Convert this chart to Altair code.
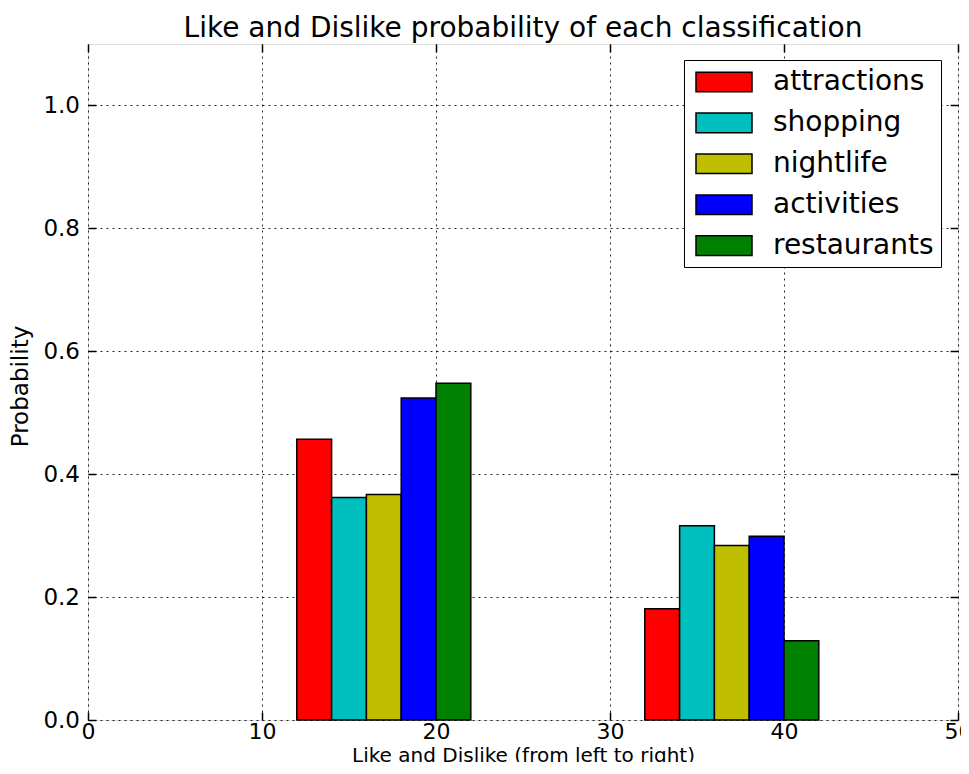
import altair as alt
import pandas as pd

categories = ["attractions", "shopping", "nightlife", "activities", "restaurants"]
bar_colors = ["#ff0000", "#00bfbf", "#bfbf00", "#0000ff", "#008000"]
like_start = [12, 14, 16, 18, 20]
dislike_start = [32, 34, 36, 38, 40]
bar_width = 2
like_prob = [0.457, 0.362, 0.367, 0.524, 0.548]
dislike_prob = [0.181, 0.316, 0.284, 0.299, 0.129]
x_ticks = [0, 10, 20, 30, 40, 50]
y_ticks = [0.0, 0.2, 0.4, 0.6, 0.8, 1.0]

rows = []
for starts, probs in ((like_start, like_prob), (dislike_start, dislike_prob)):
    for cat, s, p in zip(categories, starts, probs):
        rows.append({"category": cat, "x0": s, "x1": s + bar_width, "prob": p, "base": 0.0})
df = pd.DataFrame(rows)

FONT = "DejaVu Sans"
x_scale = alt.Scale(domain=[0, 50], nice=False, zero=False)
y_scale = alt.Scale(domain=[0, 1.1], nice=False)

legend = alt.Legend(
    title=None, orient="none", legendX=596, legendY=16, direction="vertical", columns=1,
    symbolType="M-2,-0.7L2,-0.7L2,0.7L-2,0.7Z", symbolSize=784,
    symbolStrokeColor="black", symbolStrokeWidth=1.5, symbolOpacity=1,
    symbolOffset=18, labelOffset=34, labelLimit=400,
    labelFont=FONT, labelFontSize=28, labelColor="black",
    padding=7, rowPadding=11.9,
    strokeColor="black", fillColor="white", cornerRadius=0,
)

main = alt.Chart(df).mark_bar(stroke="black", strokeWidth=1.5, opacity=1).encode(
    x=alt.X("x0:Q", scale=x_scale, axis=alt.Axis(
        values=x_ticks, format="d", orient="bottom",
        labelFont=FONT, labelFontSize=22, labelColor="black", labelPadding=1,
        labelFlush=False, ticks=False, domain=False,
        grid=True, gridColor="black", gridDash=[2, 4], gridWidth=1, gridOpacity=0.85,
        title="Like and Dislike (from left to right)", titleFont=FONT, titleFontSize=20,
        titleFontWeight="normal", titleColor="black", titleY=41.5, titleBaseline="alphabetic",
    )),
    x2="x1:Q",
    y=alt.Y("prob:Q", scale=y_scale, axis=alt.Axis(
        values=y_ticks, format=".1f", orient="left",
        labelFont=FONT, labelFontSize=23, labelColor="black", labelPadding=8.5,
        labelFlush=False, ticks=False, domain=False,
        grid=True, gridColor="black", gridDash=[2, 4], gridWidth=1, gridOpacity=0.85,
        title="Probability", titleFont=FONT, titleFontSize=23, titleFontWeight="normal",
        titleColor="black", titleX=-60.5, titleY=342, titleBaseline="alphabetic",
        titleAngle=270,
    )),
    y2="base:Q",
    color=alt.Color("category:N", scale=alt.Scale(domain=categories, range=bar_colors),
                    legend=legend),
)


def tick_layer(xo, yo):
    xa = alt.Axis(orient=xo, values=x_ticks, labels=False, domain=False, grid=False,
                  ticks=True, tickSize=8, tickColor="black", tickWidth=1.5, offset=-8, title=None)
    ya = alt.Axis(orient=yo, values=y_ticks, labels=False, domain=False, grid=False,
                  ticks=True, tickSize=8, tickColor="black", tickWidth=1.5, offset=-8, title=None)
    return alt.Chart(df).mark_point(opacity=0).encode(
        x=alt.X("x0:Q", scale=x_scale, axis=xa),
        y=alt.Y("prob:Q", scale=y_scale, axis=ya),
    )


chart = alt.layer(main, tick_layer("bottom", "left"), tick_layer("top", "right")).resolve_axis(
    x="independent", y="independent"
).properties(
    width=870, height=676,
    title=alt.TitleParams(
        "Like and Dislike probability of each classification",
        font=FONT, fontSize=28, fontWeight="normal", color="black",
        anchor="middle", baseline="alphabetic", frame="group", offset=8, dy=30,
    ),
    autosize=alt.AutoSizeParams(type="none"),
    padding={"left": 80, "top": 36, "right": 3, "bottom": 42},
).configure_view(stroke="black", strokeWidth=1.8).configure_legend(
    strokeWidth=1.5
).configure(background="white")

chart.save("out.html", embed_options={"renderer": "svg", "actions": False})
